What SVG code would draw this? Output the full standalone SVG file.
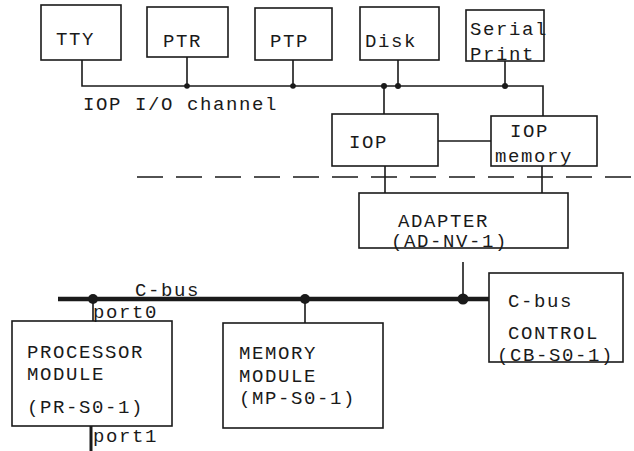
<svg xmlns="http://www.w3.org/2000/svg" width="634" height="451" viewBox="0 0 634 451">
<style>
.box{fill:none;stroke:#1a1a1a;stroke-width:1.6}
.t{font-family:"Liberation Mono","DejaVu Sans Mono",monospace;font-size:19px;letter-spacing:1.6px;fill:#1a1a1a}
.ln{fill:none;stroke:#1a1a1a;stroke-width:1.6}
.dot{fill:#1a1a1a}
</style>
<rect width="634" height="451" fill="#fff"/>
<g id="connectors">
<path class="ln" d="M82,60 V86 H543 V116"/>
<path class="ln" d="M187,57 V86 M293,60 V86 M398,60 V86 M505,61 V86 M384,86 V114"/>
<path class="ln" d="M438,141 H491 M385,166 V193 M542,166 V193"/>
<path class="ln" d="M137,177 H634" stroke-dasharray="26 13"/>
<circle class="dot" cx="187" cy="86" r="2.8"/>
<circle class="dot" cx="293" cy="86" r="2.8"/>
<circle class="dot" cx="384" cy="86" r="3"/>
<circle class="dot" cx="398" cy="86" r="3"/>
<circle class="dot" cx="505" cy="86" r="3"/>
<path class="ln" d="M463,262 V299"/>
<path d="M58,299 H489" stroke="#1a1a1a" stroke-width="4.5" fill="none"/>
<path class="ln" d="M93,299 V321 M305,299 V323"/>
<path d="M91,426 V451" stroke="#1a1a1a" stroke-width="3" fill="none"/>
<circle class="dot" cx="93" cy="299" r="5"/>
<circle class="dot" cx="305" cy="299" r="5"/>
<circle class="dot" cx="463" cy="299" r="5.5"/>
<text class="t" x="83" y="110">IOP I/O channel</text>
<text class="t" x="135" y="296">C-bus</text>
<text class="t" x="93" y="318">port0</text>
<text class="t" x="93" y="442">port1</text>
</g>
<g id="tty"><rect class="box" x="41" y="5" width="80" height="55"/><text class="t" x="56" y="45">TTY</text></g>
<g id="ptr"><rect class="box" x="147" y="7" width="81" height="50"/><text class="t" x="163" y="47">PTR</text></g>
<g id="ptp"><rect class="box" x="255" y="8" width="77" height="52"/><text class="t" x="270" y="47">PTP</text></g>
<g id="disk"><rect class="box" x="360" y="7" width="79" height="53"/><text class="t" x="365" y="47">Disk</text></g>
<g id="serial"><rect class="box" x="466" y="10" width="78" height="51"/><text class="t" x="470" y="35">Serial</text><text class="t" x="470" y="60">Print</text></g>
<g id="iop"><rect class="box" x="332" y="114" width="106" height="52"/><text class="t" x="349" y="148">IOP</text></g>
<g id="iopmem"><rect class="box" x="491" y="116" width="106" height="50"/><text class="t" x="510" y="137">IOP</text><text class="t" x="495" y="162">memory</text></g>
<g id="adapter"><rect class="box" x="359" y="193" width="209" height="55"/><text class="t" x="398" y="227" letter-spacing="2.4">ADAPTER</text><text class="t" x="391" y="247" letter-spacing="2.4">(AD-NV-1)</text></g>
<g id="processor"><rect class="box" x="12" y="321" width="160" height="105"/><text class="t" x="27" y="358">PROCESSOR</text><text class="t" x="27" y="380">MODULE</text><text class="t" x="27" y="413">(PR-S0-1)</text></g>
<g id="memory"><rect class="box" x="223" y="323" width="160" height="105"/><text class="t" x="239" y="359">MEMORY</text><text class="t" x="239" y="382">MODULE</text><text class="t" x="239" y="404">(MP-S0-1)</text></g>
<g id="cbcontrol"><rect class="box" x="489" y="273" width="134" height="89"/><text class="t" x="508" y="307">C-bus</text><text class="t" x="508" y="339">CONTROL</text><text class="t" x="497" y="361">(CB-S0-1)</text></g>
</svg>
